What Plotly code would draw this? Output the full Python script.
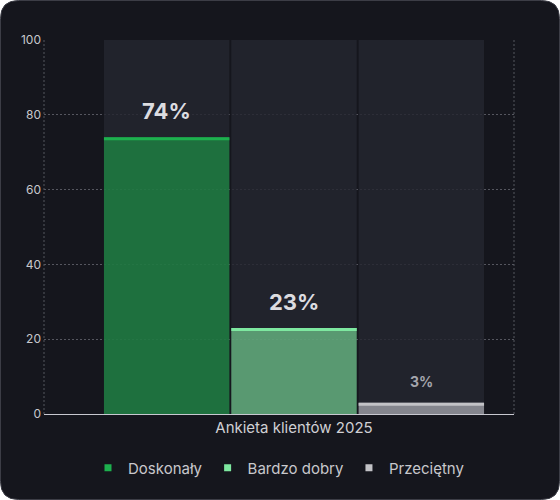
import plotly.graph_objects as go

# dane ankiety
kategorie = ["Ankieta klientów 2025"]
oceny = ["Doskonały", "Bardzo dobry", "Przeciętny"]
wartosci = [74, 23, 3]

kolory_wypelnienia = ["rgba(29,176,78,0.55)", "rgba(126,232,160,0.6)", "rgba(175,175,182,0.7)"]
kolory_gora = ["#1db04e", "#7ee8a0", "#c2c2c6"]
kolory_legendy = ["#1db04e", "#7ee8a0", "#c2c2c6"]
rozmiary_etykiet = [22, 22, 14]
kolory_etykiet = ["#dcdce0", "#dcdce0", "#a6a6ae"]

W, H = 560, 500
L, R, T, B = 44, 46, 40, 86
BARGAP = 0.2
GRUBOSC_GORY = 0.8
SIATKA = "#55565f"

fig = go.Figure()

# tlo kolumn
for i, nazwa in enumerate(oceny):
    fig.add_trace(go.Bar(
        x=[0], y=[100], offsetgroup=str(i),
        marker=dict(color="rgba(37,38,47,0.82)", line=dict(width=0)),
        showlegend=False, hoverinfo="skip",
    ))

# slupki
for i, nazwa in enumerate(oceny):
    fig.add_trace(go.Bar(
        x=[0], y=[wartosci[i]], offsetgroup=str(i), name=nazwa,
        marker=dict(color=kolory_wypelnienia[i], line=dict(width=0)),
        showlegend=False,
    ))
    # jasna krawedz na gorze
    fig.add_trace(go.Bar(
        x=[0], y=[GRUBOSC_GORY], base=[wartosci[i] - GRUBOSC_GORY], offsetgroup=str(i),
        marker=dict(color=kolory_gora[i], line=dict(width=0)),
        showlegend=False, hoverinfo="skip",
    ))

# legenda z malymi kwadratami
for i, nazwa in enumerate(oceny):
    fig.add_trace(go.Scatter(
        x=[None], y=[None], mode="markers", name=nazwa,
        marker=dict(symbol="square", size=7, color=kolory_legendy[i]),
    ))

# etykiety wartosci
slot = (1 - BARGAP) / len(oceny)
for i, v in enumerate(wartosci):
    fig.add_annotation(
        x=-(1 - BARGAP) / 2 + slot * (i + 0.5), y=v, xref="x", yref="y",
        text=f"<b>{v}%</b>", showarrow=False, yanchor="bottom", yshift=11,
        font=dict(size=rozmiary_etykiet[i], color=kolory_etykiet[i]),
    )


def px_x(p):
    return (p - L) / (W - L - R)


def px_y(p):
    return (H - B - p) / (H - T - B)


# karta z zaokraglonymi rogami
r = 18
x0, x1, y0, y1 = 0.5, W - 0.5, 0.5, H - 0.5
sciezka = (
    f"M {px_x(x0 + r)},{px_y(y0)} L {px_x(x1 - r)},{px_y(y0)} "
    f"Q {px_x(x1)},{px_y(y0)} {px_x(x1)},{px_y(y0 + r)} "
    f"L {px_x(x1)},{px_y(y1 - r)} Q {px_x(x1)},{px_y(y1)} {px_x(x1 - r)},{px_y(y1)} "
    f"L {px_x(x0 + r)},{px_y(y1)} Q {px_x(x0)},{px_y(y1)} {px_x(x0)},{px_y(y1 - r)} "
    f"L {px_x(x0)},{px_y(y0 + r)} Q {px_x(x0)},{px_y(y0)} {px_x(x0 + r)},{px_y(y0)} Z"
)
fig.add_shape(type="path", path=sciezka, xref="paper", yref="paper", layer="below",
              fillcolor="#15161d", line=dict(color="#3c3d46", width=1))

# kropkowane krawedzie obszaru wykresu
for xp in [0, 1]:
    fig.add_shape(type="line", x0=xp, x1=xp, y0=0, y1=1, xref="paper", yref="paper",
                  layer="below", line=dict(color=SIATKA, width=1, dash="2px,2px"))

grupa = 1 - BARGAP
px_na_jedn = 382 / grupa
fig.update_layout(
    width=W, height=H,
    margin=dict(l=L, r=R, t=T, b=B),
    paper_bgcolor="#ffffff",
    plot_bgcolor="rgba(0,0,0,0)",
    barmode="group", bargap=BARGAP, bargroupgap=0.015,
    font=dict(family="Inter, Lato, sans-serif", color="#c8c8cc"),
    xaxis=dict(
        type="linear", range=[-(294 - L) / px_na_jedn, (W - R - 294) / px_na_jedn],
        tickvals=[0], ticktext=kategorie, showgrid=False, zeroline=False,
        showline=True, linecolor="#c8c8d0", linewidth=1,
        tickfont=dict(size=15, color="#d0d0d4"), ticks="",
    ),
    yaxis=dict(
        range=[0, 100], dtick=20, showgrid=True, gridcolor=SIATKA, griddash="2px,2px",
        zeroline=False, tickfont=dict(size=12, color="#c8c8cc"), ticks="",
        ticklabelstandoff=2,
    ),
    legend=dict(orientation="h", x=0.5, xanchor="center", y=px_y(468), yanchor="middle",
                font=dict(size=15, color="#c8c8cc"), bgcolor="rgba(0,0,0,0)"),
    showlegend=True,
)

fig.write_html("out.html", config={"displayModeBar": False},
               post_script="document.body.style.margin='0';")
